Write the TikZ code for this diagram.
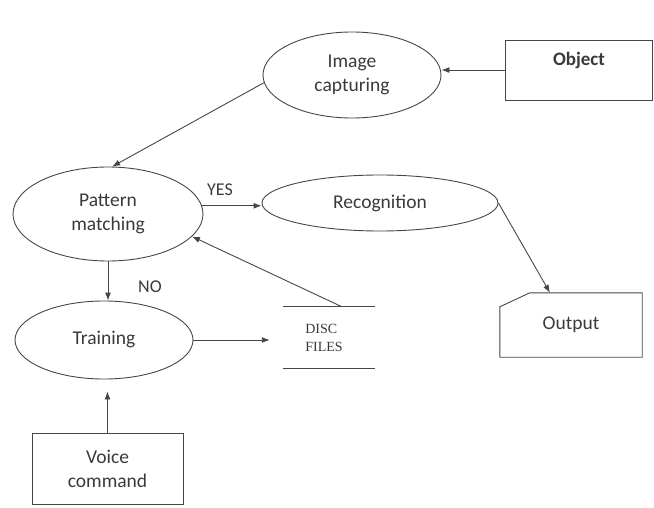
\documentclass[tikz,border=0pt]{standalone}
\usepackage{fontspec}
\setmainfont{Carlito}
\newfontfamily\discfont{Liberation Serif}
\usetikzlibrary{shapes.geometric,arrows.meta}
\definecolor{ln}{HTML}{4A4545}
\definecolor{tx}{HTML}{3A3A3A}
\tikzset{
  ell/.style={ellipse,draw=ln,line width=0.9pt,inner sep=0pt,text=tx,align=center,font=\fontsize{19.5}{24}\selectfont},
  boxnode/.style={rectangle,draw=ln,line width=0.9pt,inner sep=0pt,text=tx,align=center,font=\fontsize{19.5}{24}\selectfont},
  arr/.style={draw=ln,line width=0.9pt,-{Latex[length=8pt,width=6pt]}},
  lbl/.style={text=tx,font=\fontsize{18}{20}\selectfont,inner sep=0pt}
}
\begin{document}
\begin{tikzpicture}[x=1pt,y=-1pt]
\useasboundingbox (0,0) rectangle (654,508);
% nodes
\node[ell,minimum width=178,minimum height=86] (img) at (352,75) {Image\\capturing};
\node[boxnode,minimum width=147,minimum height=60] (obj) at (578.5,70) {};
\node[text=tx,font=\fontsize{19}{22}\selectfont\bfseries,inner sep=0pt] (objtext) at (579,60) {Object};
\node[ell,minimum width=190,minimum height=94] (pm) at (108,214) {Pattern\\matching};
\node[ell,minimum width=236,minimum height=56] (rec) at (380,203) {Recognition};
\node[ell,minimum width=178,minimum height=78] (tr) at (104,340) {\raisebox{5pt}{Training}};
\node[boxnode,minimum width=151,minimum height=71] (vc) at (107.5,468.5) {Voice\\command};
\node[minimum width=142,minimum height=64,inner sep=0pt,text=tx,font=\fontsize{19.5}{22}\selectfont] (out) at (571,325) {Output};
\draw[ln,line width=0.9pt] ([yshift=-14pt]out.north west) -- ([xshift=30pt]out.north west) -- (out.north east) -- (out.south east) -- (out.south west) -- cycle;
\node[minimum width=92,minimum height=61,inner sep=0pt] (disc) at (329,337.5) {};
\node[text=tx,align=left,inner sep=0pt,font=\discfont\fontsize{14}{18}\selectfont] (disctext) at (324,337.5) {DISC\\FILES};
\draw[ln,line width=0.9pt] (disc.north west) -- (disc.north east);
\draw[ln,line width=0.9pt] (disc.south west) -- (disc.south east);
% labels
\node[lbl] (yes) at (220,190) {YES};
\node[lbl] (no) at (150,287) {NO};
% connectors
\draw[arr] (obj.west) -- (img.east |- obj.west);
\draw[arr] (img.185) -- (pm.85);
\draw[arr] (pm.5) -- (rec.west |- pm.5);
\draw[arr] (rec.east) -- ([xshift=-21pt]out.north);
\draw[arr] ([xshift=13pt]disc.north) -- (pm.345);
\draw[arr] (pm.south) -- (pm.south |- tr.north);
\draw[arr,shorten >=13pt] (tr.east) -- (tr.east -| disc.west);
\draw[arr,shorten >=12pt] (vc.north) -- (vc.north |- tr.south);
\end{tikzpicture}
\end{document}
